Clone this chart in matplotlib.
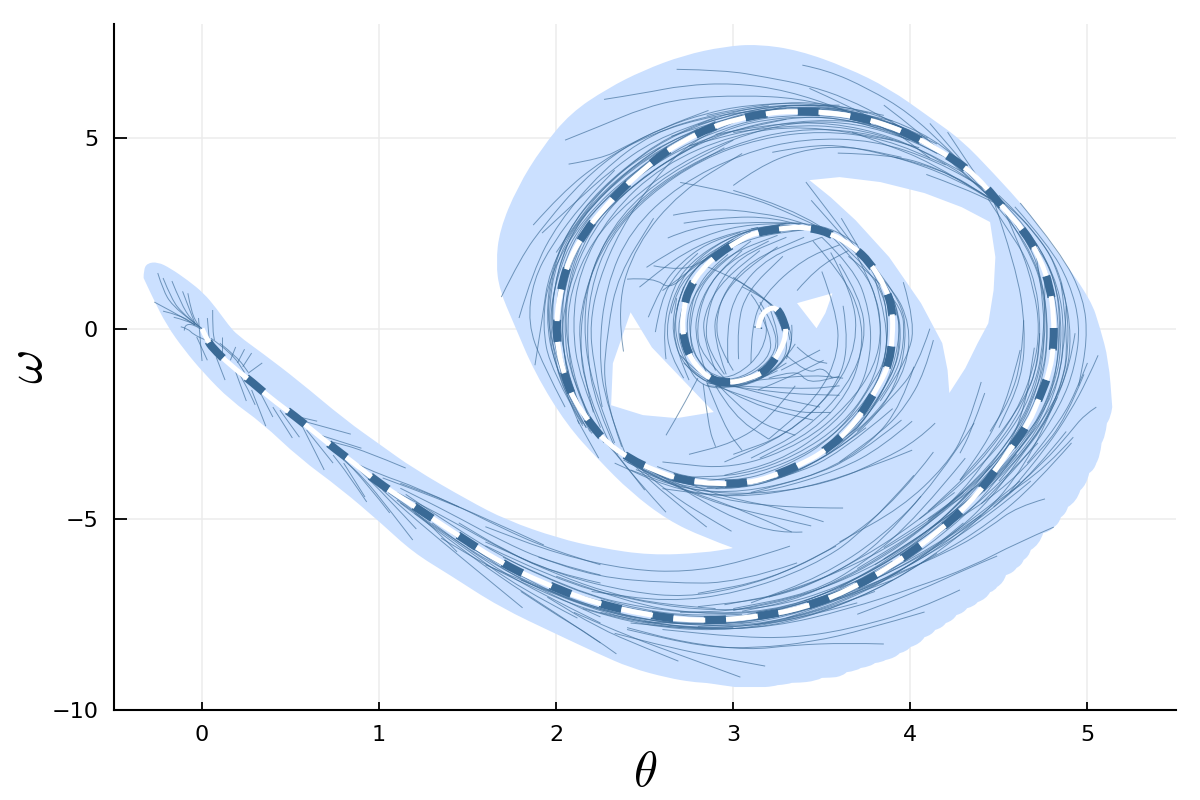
import matplotlib
matplotlib.use("Agg")
import matplotlib.pyplot as plt
from matplotlib.path import Path
from matplotlib.patches import PathPatch

plt.rcParams["mathtext.fontset"] = "cm"
plt.rcParams["lines.scale_dashes"] = False

# Reachable set outline (theta, omega)
edge_top = [
    (-0.33, 1.33), (-0.33, 1.54), (-0.31, 1.72), (-0.25, 1.75), (-0.18, 1.59), (-0.08, 1.27),
    (0.01, 0.93), (0.08, 0.54), (0.15, 0.09), (0.20, -0.17), (0.34, -0.64), (0.54, -1.35),
    (0.81, -2.40), (1.01, -3.06), (1.19, -3.66), (1.50, -4.50), (1.72, -5.03), (2.01, -5.50),
    (2.25, -5.76), (2.53, -5.95), (2.83, -5.89), (3.00, -5.76),
]
edge_back = [
    (3.00, -5.76), (2.83, -5.47), (2.63, -5.03),
    (2.42, -4.29), (2.24, -3.45), (2.06, -2.53), (1.88, -1.17), (1.76, 0.14), (1.68, 1.01),
    (1.66, 1.72), (1.68, 2.59), (1.78, 3.71), (1.92, 4.76), (2.08, 5.66), (2.29, 6.31),
    (2.49, 6.78), (2.72, 7.18), (2.95, 7.41), (3.14, 7.47), (3.37, 7.31), (3.64, 6.86),
    (3.88, 6.31), (4.11, 5.55), (4.29, 4.95), (4.47, 4.08), (4.66, 3.11), (4.85, 1.88),
    (5.02, 0.75), (5.07, 0.04), (5.12, -0.83), (5.14, -2.06),
]
edge_steps = [
    (5.14, -2.06), (5.11, -2.48), (5.08, -3.0), (5.05, -3.53), (5.01, -3.79), (4.96, -4.24),
    (4.89, -4.68), (4.85, -4.95), (4.81, -5.21), (4.75, -5.37), (4.68, -5.81), (4.64, -6.07),
    (4.60, -6.28), (4.54, -6.47), (4.49, -6.78), (4.45, -6.92), (4.38, -7.18), (4.32, -7.34),
    (4.26, -7.52), (4.20, -7.73), (4.14, -7.91), (4.08, -8.10), (4.00, -8.36), (3.94, -8.52),
    (3.86, -8.70), (3.80, -8.78), (3.72, -8.91), (3.64, -9.02), (3.58, -9.15), (3.50, -9.17),
    (3.41, -9.28), (3.33, -9.30), (3.25, -9.36), (3.18, -9.41), (3.09, -9.41), (3.01, -9.41),
]
edge_tail = [
    (3.01, -9.41), (2.93, -9.36), (2.85, -9.30), (2.77, -9.28), (2.63, -9.17), (2.42, -8.91),
    (2.23, -8.52), (2.01, -8.04), (1.68, -7.31), (1.40, -6.47), (1.19, -5.87), (1.01, -5.10),
    (0.78, -4.19), (0.55, -3.40), (0.34, -2.48), (0.16, -1.88), (0.01, -1.17), (-0.10, -0.56),
    (-0.20, 0.09), (-0.28, 0.83), (-0.33, 1.33),
]
hole_left = [
    (2.42, 0.43), (2.32, -0.91), (2.31, -2.01), (2.49, -2.27), (2.68, -2.35), (2.89, -2.19),
    (2.70, -1.27), (2.54, -0.49),
]
hole_small = [(3.47, 0.01), (3.52, 0.41), (3.56, 0.93), (3.36, 0.67)]
hole_right = [
    (3.55, 3.45), (3.69, 2.85), (3.88, 1.88), (4.06, 0.67), (4.18, -0.38), (4.21, -1.09),
    (4.22, -1.69), (4.31, -1.04), (4.38, -0.38), (4.44, 0.14), (4.47, 1.01), (4.48, 1.88),
    (4.45, 2.80), (4.29, 3.19), (4.08, 3.56), (3.83, 3.85), (3.60, 3.98), (3.43, 3.90),
]

# Nominal trajectory
nominal = [
    (3.14, 0.01), (3.15, 0.30), (3.20, 0.54), (3.25, 0.54), (3.29, 0.14), (3.30, -0.12),
    (3.27, -0.56), (3.19, -1.09), (3.10, -1.30), (2.98, -1.43), (2.87, -1.35), (2.76, -0.83),
    (2.71, -0.12), (2.72, 0.56), (2.75, 1.05), (2.82, 1.55), (2.92, 1.98), (3.02, 2.27),
    (3.11, 2.51), (3.31, 2.66), (3.42, 2.66), (3.55, 2.51), (3.68, 2.14), (3.77, 1.75),
    (3.86, 1.09), (3.90, 0.49), (3.90, -0.22), (3.88, -0.91), (3.83, -1.43), (3.69, -2.48),
    (3.54, -3.14), (3.40, -3.53), (3.21, -3.90), (3.07, -4.06), (2.91, -4.08), (2.71, -3.98),
    (2.55, -3.71), (2.42, -3.43), (2.28, -2.98), (2.20, -2.53), (2.10, -1.88), (2.05, -1.27),
    (2.01, -0.56), (2.00, 0.14), (2.02, 0.93), (2.07, 1.80), (2.17, 2.59), (2.26, 3.11),
    (2.38, 3.71), (2.49, 4.16), (2.61, 4.63), (2.75, 5.00), (2.86, 5.26), (3.02, 5.50),
    (3.19, 5.66), (3.34, 5.71), (3.53, 5.68), (3.72, 5.55), (3.90, 5.29), (4.04, 5.00),
    (4.18, 4.63), (4.32, 4.21), (4.43, 3.71), (4.52, 3.19), (4.64, 2.59), (4.73, 1.88),
    (4.79, 1.09), (4.81, 0.30), (4.81, -0.38), (4.79, -1.09), (4.73, -1.80), (4.67, -2.48),
    (4.56, -3.19), (4.38, -4.37), (4.16, -5.34), (3.92, -6.15), (3.68, -6.81), (3.40, -7.34),
    (3.09, -7.60), (2.79, -7.68), (2.51, -7.52), (2.20, -7.18), (1.91, -6.65), (1.68, -6.13),
    (1.40, -5.29), (1.12, -4.42), (1.00, -4.06), (0.85, -3.50), (0.76, -3.19), (0.62, -2.66),
    (0.53, -2.32), (0.38, -1.80), (0.29, -1.43), (0.16, -0.96), (0.06, -0.51), (0.03, -0.30),
    (0.0, 0.0),
]

# Sampled trajectories, grouped by where they sit
strands_top = [
    [(2.68, 6.81), (2.95, 6.79), (3.19, 6.60), (3.42, 6.39), (3.64, 6.05), (3.88, 5.47), (4.11, 4.87), (4.34, 4.08), (4.47, 3.43)],
    [(3.39, 6.92), (3.53, 6.79), (3.76, 6.31), (3.99, 5.68), (4.22, 4.68), (4.43, 3.71)],
    [(2.27, 6.02), (2.49, 6.18), (2.72, 6.39), (3.00, 6.45), (3.30, 6.26), (3.64, 5.73), (3.99, 4.95)],
    [(2.05, 4.95), (2.26, 5.34), (2.49, 5.79), (2.72, 6.05), (3.05, 6.13), (3.37, 6.05), (3.64, 5.73)],
    [(2.07, 4.32), (2.26, 4.47), (2.38, 4.76), (2.61, 5.29), (2.84, 5.65), (3.07, 5.87), (3.41, 5.94), (3.76, 5.66)],
    [(3.43, 6.31), (3.64, 5.87), (3.88, 5.29), (4.11, 4.48)],
    [(3.85, 5.87), (4.06, 5.13), (4.27, 4.24), (4.45, 3.45)],
    [(4.11, 5.39), (4.29, 4.42), (4.46, 3.45)],
    [(4.21, 5.16), (4.34, 4.24), (4.46, 3.45)],
    [(3.67, 5.16), (3.88, 4.81), (4.11, 4.37), (4.45, 3.42)],
    [(3.22, 4.63), (3.42, 4.81), (3.64, 4.81), (3.99, 4.42), (4.27, 3.90), (4.46, 3.37)],
    [(3.59, 4.61), (3.88, 4.58), (4.15, 4.24), (4.46, 3.40)],
    [(3.91, 4.50), (4.18, 4.21), (4.45, 3.42)],
    [(4.09, 4.05), (4.29, 3.71), (4.47, 3.32)],
    [(3.00, 3.76), (3.14, 4.24), (3.37, 4.68), (3.64, 4.81), (3.95, 4.5)],
    [(2.85, 5.6), (3.2, 5.95), (3.55, 5.92), (3.9, 5.5), (4.2, 4.8), (4.45, 3.6)],
    [(2.8, 5.35), (3.15, 5.85), (3.5, 5.88), (3.85, 5.5), (4.15, 4.85)],
    [(2.9, 5.1), (3.2, 5.38), (3.55, 5.42), (3.9, 5.05), (4.2, 4.35), (4.45, 3.55)],
    [(3.0, 5.15), (3.3, 5.35), (3.65, 5.3), (4.0, 4.85), (4.3, 4.1)],
    [(2.75, 4.8), (3.1, 5.25), (3.45, 5.5), (3.8, 5.4), (4.1, 4.8)],
    [(2.65, 5.05), (3.0, 5.6), (3.35, 5.82), (3.7, 5.7), (4.0, 5.2)],
]
strands_left = [
    [(1.69, 0.83), (1.80, 1.88), (1.94, 2.77), (2.15, 3.90), (2.38, 4.76), (2.61, 5.29), (2.86, 5.73)],
    [(1.79, 0.28), (1.87, 1.54), (2.01, 2.77), (2.26, 4.16), (2.54, 5.13), (2.86, 5.60), (3.2, 5.85)],
    [(1.87, 2.72), (2.03, 3.56), (2.26, 4.42), (2.54, 5.13), (2.90, 5.62), (3.3, 5.78)],
    [(1.92, 2.51), (2.10, 3.29), (2.31, 4.16), (2.55, 4.95), (2.9, 5.55)],
    [(2.26, -2.06), (2.21, -0.91), (2.19, 0.14), (2.24, 1.27), (2.36, 2.59), (2.56, 3.98), (2.77, 4.95), (3.07, 5.55)],
    [(2.05, -2.06), (1.92, -0.91), (1.84, 0.14), (1.87, 1.27), (1.98, 2.24), (2.15, 3.29), (2.33, 4.16)],
    [(1.88, -0.96), (1.92, 0.22), (1.96, 1.54), (2.12, 2.85), (2.33, 3.90), (2.59, 4.76)],
    [(2.25, -2.6), (2.13, -1.3), (2.09, 0.1), (2.13, 1.5), (2.3, 3.0), (2.6, 4.3), (3.0, 5.1), (3.4, 5.35), (3.9, 4.95)],
    [(2.15, -2.55), (1.97, -1.1), (1.92, 0.1), (1.96, 1.4), (2.15, 2.9), (2.45, 4.2), (2.85, 5.3), (3.3, 5.85)],
    [(2.22, -2.7), (2.08, -1.3), (2.04, 0.1), (2.08, 1.6), (2.22, 3.0), (2.5, 4.2), (2.85, 5.05), (3.3, 5.5)],
    [(2.19, -2.7), (2.04, -1.3), (1.97, 0.1), (2.0, 1.5), (2.13, 2.9), (2.42, 4.2), (2.8, 5.25)],
    [(2.3, -3.0), (2.16, -1.6), (2.13, -0.1), (2.19, 1.5), (2.36, 3.0), (2.64, 4.1), (3.0, 4.95)],
    [(2.17, -2.6), (2.0, -1.2), (1.95, 0.2), (2.0, 1.9), (2.2, 3.3), (2.5, 4.5), (2.9, 5.45)],
    [(2.1, -1.9), (2.02, -0.5), (2.06, 1.0), (2.2, 2.6), (2.45, 3.9), (2.8, 4.85)],
    [(2.21, -2.2), (2.12, -0.6), (2.15, 0.9), (2.3, 2.5), (2.58, 3.8), (2.95, 4.75)],
    [(2.38, -0.6), (2.34, 0.6), (2.45, 2.2), (2.7, 3.6), (3.05, 4.6)],
    [(2.0, 2.0), (2.2, 3.4), (2.42, 4.35), (2.72, 5.1), (3.05, 5.6)],
    [(2.12, -2.1), (2.0, -0.9), (1.96, 0.2), (2.0, 1.3), (2.1, 2.5), (2.3, 3.5), (2.55, 4.5), (2.85, 5.3), (3.2, 5.8), (3.55, 5.83), (3.9, 5.45)],
    [(2.2, -2.75), (2.06, -1.3), (2.03, 0.1), (2.05, 1.4), (2.16, 2.5), (2.38, 3.55), (2.65, 4.5), (2.95, 5.15), (3.3, 5.55), (3.6, 5.55), (3.95, 5.1)],
    [(2.27, -3.0), (2.1, -1.6), (2.06, -0.2), (2.08, 1.0), (2.2, 2.3), (2.42, 3.4), (2.7, 4.35), (3.0, 5.0), (3.35, 5.45), (3.7, 5.4), (4.0, 4.95)],
    [(2.15, -2.3), (2.03, -0.9), (1.99, 0.2), (2.03, 1.6), (2.15, 2.75), (2.35, 3.75), (2.6, 4.7), (2.9, 5.4), (3.25, 5.75), (3.6, 5.78), (3.95, 5.3)],
    [(2.13, -2.5), (1.99, -1.0), (1.94, 0.3), (1.98, 1.7), (2.1, 2.85), (2.3, 3.85), (2.55, 4.8), (2.85, 5.45), (3.2, 5.85), (3.6, 5.87)],
    [(2.35, -3.3), (2.22, -2.0), (2.17, -0.5), (2.19, 1.0), (2.3, 2.4), (2.52, 3.5), (2.82, 4.45), (3.15, 5.0), (3.5, 5.2), (3.85, 5.0), (4.2, 4.3)],
    [(2.4, -3.4), (2.28, -2.0), (2.24, -0.6), (2.28, 1.1), (2.42, 2.6), (2.7, 3.8), (3.05, 4.6), (3.4, 5.0), (3.8, 4.95), (4.15, 4.4), (4.45, 3.6)],
    [(2.33, -3.0), (2.2, -1.5), (2.15, 0.1), (2.2, 1.7), (2.38, 3.0), (2.65, 4.05), (3.0, 4.85), (3.35, 5.25), (3.7, 5.2), (4.05, 4.75)],
    [(2.37, -3.1), (2.26, -1.7), (2.29, 0.0), (2.35, 1.4), (2.55, 2.9)],
    [(2.24, -2.9), (2.14, -1.9), (2.07, -0.6), (2.05, 0.3), (2.08, 1.3), (2.14, 2.1), (2.24, 2.9), (2.37, 3.5), (2.52, 4.05), (2.66, 4.5), (2.8, 4.87), (3.0, 5.3), (3.2, 5.5), (3.4, 5.57), (3.6, 5.52), (3.8, 5.3), (4.0, 4.95), (4.2, 4.5)],
    [(2.17, -2.6), (2.06, -1.8), (2.0, -0.6), (1.97, 0.2), (1.99, 1.1), (2.04, 2.0), (2.12, 2.75), (2.22, 3.3), (2.35, 3.9), (2.46, 4.35), (2.6, 4.8), (2.75, 5.15), (2.95, 5.5), (3.15, 5.75), (3.35, 5.82), (3.6, 5.78), (3.85, 5.5), (4.1, 5.0)],
    [(2.21, -2.75), (2.11, -1.9), (2.04, -0.6), (2.02, 0.2), (2.05, 1.1), (2.11, 2.0), (2.21, 2.85), (2.34, 3.55), (2.48, 4.05), (2.63, 4.55), (2.77, 4.92), (2.92, 5.2), (3.1, 5.47), (3.3, 5.6), (3.55, 5.6), (3.75, 5.42), (3.95, 5.1), (4.15, 4.6)],
    [(2.15, -2.5), (2.03, -1.6), (1.98, -0.4), (1.95, 0.3), (1.97, 1.2), (2.02, 2.1), (2.11, 2.85), (2.2, 3.4), (2.32, 3.95), (2.44, 4.4), (2.57, 4.85), (2.72, 5.2), (2.9, 5.55), (3.1, 5.8), (3.35, 5.88), (3.6, 5.85), (3.85, 5.6)],
]
strands_right = [
    [(4.59, 3.2), (4.78, 2.2), (4.9, 1.2), (4.96, 0.1), (4.93, -1.0), (4.85, -2.0), (4.67, -3.3), (4.4, -4.6)],
    [(4.5, 3.5), (4.75, 2.4), (4.87, 1.0), (4.91, -0.2), (4.88, -1.3), (4.75, -2.6), (4.5, -4.0)],
    [(4.62, 3.3), (4.85, 2.0), (4.98, 0.8), (5.0, -0.3), (4.95, -1.5)],
    [(4.50, 3.4), (4.62, 2.2), (4.7, 1.0), (4.73, 0), (4.7, -1.0), (4.6, -2.2), (4.4, -3.5), (4.1, -4.8)],
    [(4.46, 3.5), (4.6, 1.6), (4.65, 0.0), (4.63, -1.3), (4.5, -2.6)],
    [(5.06, -0.7), (5.0, -1.34), (4.90, -2.2), (4.77, -3.11), (4.56, -4.3)],
    [(5.0, -0.9), (4.94, -1.6), (4.85, -2.4), (4.66, -3.53)],
    [(5.05, -2.06), (4.98, -2.27), (4.9, -2.74), (4.75, -3.53), (4.47, -4.68)],
    [(4.92, -2.85), (4.77, -3.63), (4.5, -4.5)],
    [(4.42, -1.69), (4.34, -2.74), (4.28, -3.27)],
    [(4.62, -0.56), (4.56, -1.69), (4.45, -2.85), (4.28, -3.98)],
    [(4.64, 0.22), (4.63, -0.83), (4.56, -1.88), (4.45, -2.7)],
    [(4.93, -0.12), (4.9, -1.0), (4.81, -1.96), (4.66, -2.93), (4.47, -3.9), (4.28, -4.76)],
    [(4.73, -0.12), (4.72, -1.0), (4.64, -1.88), (4.47, -3.0), (4.28, -3.98)],
    [(4.88, 0.6), (4.87, -0.8), (4.78, -2.0), (4.62, -3.0), (4.4, -4.1), (4.1, -5.0)],
    [(4.76, 1.4), (4.76, -0.4), (4.68, -1.8), (4.53, -2.95), (4.32, -3.95), (4.05, -5.0)],
    [(4.85, 1.2), (4.9, -0.4), (4.84, -1.7), (4.7, -2.9), (4.5, -3.95), (4.25, -4.9)],
    [(4.7, 2.2), (4.77, 0.4), (4.73, -1.3), (4.6, -2.7), (4.38, -3.95), (4.1, -5.05)],
    [(4.98, -1.2), (4.88, -2.35), (4.72, -3.3), (4.5, -4.3), (4.2, -5.2)],
    [(4.4, -1.4), (4.32, -2.66), (4.2, -3.6), (3.95, -4.7), (3.6, -5.6)],
    [(4.13, -0.3), (4.08, -1.17), (3.97, -2.06), (3.85, -2.66), (3.6, -3.5)],
    [(4.11, 0.0), (4.04, -1.0), (3.90, -1.8), (3.7, -2.7)],
    [(3.9, 5.4), (4.25, 4.55), (4.5, 3.45), (4.7, 2.4), (4.84, 1.1), (4.87, -0.1), (4.84, -1.4), (4.72, -2.7), (4.52, -3.8), (4.25, -4.9), (3.95, -5.9), (3.6, -6.8)],
    [(4.25, 4.5), (4.47, 3.5), (4.65, 2.5), (4.79, 1.4), (4.84, 0.2), (4.83, -1.1), (4.75, -2.3), (4.6, -3.3), (4.4, -4.25), (4.12, -5.25), (3.8, -6.2)],
    [(4.45, 3.6), (4.66, 2.4), (4.75, 1.2), (4.78, -0.1), (4.75, -1.3), (4.66, -2.4), (4.5, -3.4), (4.3, -4.4), (4.02, -5.4), (3.7, -6.3)],
    [(4.47, 3.5), (4.7, 2.3), (4.82, 1.3), (4.85, 0.0), (4.82, -1.3), (4.7, -2.6), (4.48, -3.85), (4.2, -5.0), (3.85, -6.05)],
    [(4.5, 3.3), (4.67, 2.1), (4.76, 0.9), (4.76, -0.4), (4.72, -1.6), (4.6, -2.8), (4.42, -3.85), (4.15, -4.85), (3.85, -5.75)],
    [(4.2, 4.5), (4.4, 3.65), (4.55, 3.05), (4.68, 2.45), (4.77, 1.8), (4.83, 1.0), (4.85, 0.2), (4.85, -0.5), (4.83, -1.2), (4.77, -1.9), (4.7, -2.6), (4.6, -3.25), (4.42, -4.4), (4.2, -5.35), (3.96, -6.15), (3.7, -6.85), (3.42, -7.4), (3.1, -7.68)],
    [(4.3, 4.2), (4.42, 3.6), (4.49, 3.2), (4.6, 2.6), (4.69, 1.9), (4.75, 1.1), (4.77, 0.3), (4.77, -0.4), (4.75, -1.1), (4.69, -1.8), (4.63, -2.45), (4.52, -3.15), (4.34, -4.3), (4.12, -5.25), (3.88, -6.05), (3.64, -6.7), (3.38, -7.22), (3.08, -7.5)],
    [(4.4, 3.8), (4.59, 3.1), (4.72, 2.4), (4.81, 1.8), (4.87, 1.0), (4.89, 0.2), (4.89, -0.5), (4.87, -1.2), (4.81, -1.95), (4.74, -2.65), (4.63, -3.3), (4.46, -4.45), (4.23, -5.45), (4.0, -6.2), (3.73, -6.95), (3.44, -7.47), (3.12, -7.78)],
    [(4.44, 3.4), (4.55, 2.6), (4.65, 1.9), (4.71, 1.1), (4.73, 0.3), (4.73, -0.4), (4.71, -1.1), (4.65, -1.8), (4.59, -2.4), (4.48, -3.1), (4.3, -4.25), (4.08, -5.2), (3.85, -5.95), (3.6, -6.6), (3.33, -7.15), (3.05, -7.42)],
]
strands_bottom = [
    [(4.81, -5.21), (4.60, -5.63), (4.34, -6.26), (4.04, -6.78), (3.64, -7.38), (3.23, -7.83), (2.83, -7.91), (2.42, -7.73)],
    [(4.76, -4.47), (4.60, -4.68), (4.45, -5.21), (4.24, -5.81), (3.84, -6.60), (3.44, -7.31)],
    [(4.49, -5.97), (4.34, -6.26), (4.04, -6.9), (3.7, -7.5)],
    [(4.28, -6.86), (4.04, -7.39), (3.64, -7.91), (3.33, -8.12), (3.03, -8.10), (2.6, -7.9)],
    [(4.08, -7.44), (3.74, -7.91), (3.44, -8.23), (3.13, -8.39), (2.83, -8.36), (2.4, -7.9)],
    [(3.85, -8.28), (3.64, -8.25), (3.33, -8.31), (3.09, -8.44), (2.73, -8.25), (2.4, -7.85)],
    [(3.18, -8.86), (2.93, -8.65), (2.63, -8.36), (2.33, -8.0)],
    [(3.04, -9.15), (2.73, -8.62), (2.42, -8.1), (2.1, -7.45)],
    [(2.69, -8.73), (2.49, -8.36), (2.23, -7.84), (1.95, -7.05)],
    [(2.34, -8.54), (2.19, -8.04), (2.02, -7.57), (1.8, -6.9)],
    [(3.32, -5.71), (3.03, -6.16), (2.73, -6.39), (2.42, -6.34), (2.02, -5.94), (1.6, -5.2)],
    [(3.58, -5.71), (3.33, -6.34), (3.03, -6.81), (2.73, -7.05), (2.42, -6.92), (2.02, -6.47), (1.6, -5.6)],
    [(3.36, -6.15), (3.03, -6.68), (2.63, -6.68), (2.23, -6.52), (1.9, -6.0)],
    [(4.02, -3.85), (3.74, -5.34), (3.44, -6.26), (3.03, -6.94), (2.63, -7.18), (2.2, -6.9)],
    [(4.06, -4.40), (3.84, -5.63), (3.54, -6.52), (3.23, -7.07), (2.8, -7.3)],
    [(4.31, -3.40), (4.04, -4.95), (3.74, -6.15), (3.44, -6.95), (3.0, -7.35)],
    [(4.36, -2.48), (4.14, -4.06), (3.84, -5.47), (3.5, -6.5), (3.1, -7.2)],
    [(4.13, -3.24), (3.94, -4.42), (3.6, -5.7), (3.2, -6.6), (2.8, -6.95)],
    [(4.91, -3.0), (4.71, -4.06), (4.45, -5.10), (4.14, -6.0), (3.74, -6.86), (3.33, -7.47)],
    [(4.68, -4.0), (4.42, -5.0), (4.1, -5.95), (3.7, -6.95), (3.3, -7.6)],
    [(4.62, -4.0), (4.36, -5.0), (4.05, -5.95), (3.65, -6.85), (3.2, -7.45)],
    [(4.3, -4.3), (4.08, -5.25), (3.78, -6.2), (3.45, -6.95), (3.05, -7.4), (2.7, -7.45)],
    [(4.25, -4.3), (4.0, -5.2), (3.7, -6.1), (3.35, -6.9), (2.95, -7.25)],
    [(4.5, -4.5), (4.23, -5.55), (3.95, -6.35), (3.6, -7.1), (3.2, -7.7), (2.8, -7.82)],
    [(4.4, -4.9), (4.1, -5.85), (3.8, -6.6), (3.45, -7.3), (3.0, -7.8), (2.5, -7.7)],
    [(4.88, -2.7), (4.7, -3.75), (4.45, -4.8), (4.15, -5.75), (3.8, -6.6), (3.4, -7.3), (3.0, -7.72), (2.6, -7.7)],
    [(4.72, -3.0), (4.5, -4.1), (4.22, -5.2), (3.9, -6.25), (3.5, -7.1), (3.1, -7.55)],
    [(4.55, -3.2), (4.33, -4.4), (4.05, -5.5), (3.75, -6.35), (3.4, -7.0), (3.0, -7.4)],
    [(4.6, -3.3), (4.36, -4.55), (4.08, -5.6), (3.78, -6.5), (3.4, -7.15)],
    [(4.45, -3.6), (4.25, -4.55), (3.95, -5.55), (3.6, -6.4), (3.2, -7.05)],
    [(3.9, -6.6), (3.5, -7.3), (3.1, -7.7), (2.7, -7.78), (2.3, -7.45), (1.95, -6.85)],
    [(3.8, -6.9), (3.45, -7.5), (3.05, -7.85), (2.65, -7.85), (2.25, -7.45)],
    [(3.7, -7.2), (3.3, -7.7), (2.9, -7.95), (2.5, -7.8), (2.15, -7.35)],
    [(3.6, -7.05), (3.2, -7.5), (2.8, -7.6), (2.4, -7.35), (2.05, -6.9)],
    [(3.1, -7.7), (2.79, -7.8), (2.5, -7.65), (2.2, -7.3), (1.9, -6.78), (1.65, -6.2), (1.38, -5.4), (1.1, -4.5)],
    [(3.05, -7.5), (2.79, -7.55), (2.5, -7.4), (2.2, -7.03), (1.92, -6.5), (1.7, -6.0), (1.42, -5.2), (1.15, -4.35)],
    [(3.0, -7.85), (2.75, -7.9), (2.45, -7.7), (2.15, -7.35), (1.87, -6.8), (1.62, -6.25), (1.35, -5.5)],
    [(2.9, -7.35), (2.6, -7.25), (2.3, -6.95), (2.0, -6.45), (1.72, -5.85), (1.45, -5.1)],
    [(1.45, -4.68), (1.21, -4.16), (1.01, -3.84), (0.85, -3.5)],
    [(1.93, -5.68), (1.59, -4.95), (1.31, -4.42), (1.02, -3.92)],
    [(2.25, -6.2), (1.97, -5.81), (1.68, -5.21), (1.40, -4.55), (1.12, -4.06)],
    [(2.25, -6.47), (1.97, -6.15), (1.68, -5.55), (1.40, -4.84), (1.12, -4.19)],
    [(2.25, -6.68), (1.97, -6.39), (1.68, -5.76), (1.40, -5.02), (1.1, -4.3)],
    [(1.81, -7.33), (1.50, -6.15), (1.21, -5.03), (1.02, -4.24)],
    [(2.25, -8.25), (1.97, -7.38), (1.68, -6.52), (1.40, -5.55), (1.12, -4.58)],
    [(1.19, -5.55), (1.06, -4.76), (0.91, -3.9), (0.80, -3.45)],
    [(1.21, -5.26), (1.06, -4.5), (0.85, -3.53)],
    [(1.06, -4.84), (0.93, -4.06), (0.78, -3.32)],
    [(0.93, -4.55), (0.82, -3.79), (0.74, -3.32)],
    [(0.92, -4.42), (0.80, -3.53)],
    [(1.44, -5.86), (1.25, -4.95), (1.05, -4.3)],
    [(2.12, -7.6), (1.78, -6.78), (1.50, -5.81), (1.2, -4.85)],
    [(2.25, -7.73), (1.87, -6.86), (1.59, -6.08), (1.3, -5.1)],
    [(2.25, -7.57), (1.87, -6.78), (1.59, -5.98), (1.3, -5.0)],
    [(1.6, -6.2), (2.0, -7.0), (2.4, -7.6), (2.8, -7.9), (3.2, -7.85), (3.6, -7.3), (4.0, -6.4), (4.4, -5.0), (4.65, -3.6), (4.83, -1.8)],
    [(1.6, -5.7), (2.0, -6.6), (2.4, -7.1), (2.8, -7.4), (3.2, -7.35), (3.6, -6.8), (4.0, -5.8), (4.3, -4.6), (4.55, -3.2), (4.65, -2.0), (4.7, -0.5)],
    [(1.5, -5.7), (1.9, -6.8), (2.3, -7.5), (2.8, -7.83), (3.2, -7.75), (3.6, -7.2), (4.0, -6.25), (4.3, -5.1)],
    [(1.7, -6.0), (2.1, -6.9), (2.5, -7.35), (2.9, -7.5), (3.3, -7.35), (3.7, -6.6), (4.05, -5.6), (4.35, -4.2)],
    [(1.8, -6.6), (2.2, -7.4), (2.6, -7.8), (3.0, -7.86), (3.4, -7.6), (3.8, -6.9), (4.15, -5.9)],
    [(2.0, -6.5), (2.4, -7.2), (2.8, -7.5), (3.2, -7.45), (3.55, -7.0), (3.9, -6.1)],
]
strands_mid = [
    [(4.01, -2.43), (3.84, -3.11), (3.60, -3.71), (3.23, -4.24), (2.93, -4.42), (2.63, -4.16), (2.33, -3.53)],
    [(4.14, -2.48), (4.04, -2.93), (3.84, -3.45), (3.54, -4.06), (3.13, -4.37), (2.73, -4.24), (2.42, -3.71)],
    [(4.01, -3.19), (3.78, -3.63), (3.4, -4.2), (3.0, -4.45), (2.6, -4.2)],
    [(3.51, -5.07), (3.27, -4.71), (3.03, -4.50), (2.83, -4.24), (2.53, -3.63)],
    [(3.44, -5.18), (3.23, -4.95), (2.93, -4.63), (2.63, -4.06), (2.4, -3.5)],
    [(3.39, -5.34), (3.25, -5.37), (3.03, -5.03), (2.83, -4.55), (2.61, -3.90), (2.42, -3.45)],
    [(3.33, -5.34), (3.03, -4.71), (2.7, -4.2), (2.45, -3.6)],
    [(3.62, -4.71), (3.33, -4.71), (2.93, -4.50), (2.63, -3.98), (2.4, -3.4)],
    [(2.99, -5.32), (2.83, -4.90), (2.63, -4.29), (2.42, -3.45)],
    [(2.85, -5.21), (2.63, -4.42), (2.42, -3.5)],
    [(2.62, -4.82), (2.47, -4.06), (2.31, -3.11)],
    [(2.50, -4.24), (2.37, -3.45), (2.23, -2.74)],
    [(2.24, -3.40), (2.16, -2.74), (2.12, -2.40)],
    [(2.66, 2.98), (2.85, 3.16), (3.14, 3.06), (3.42, 2.77), (3.68, 2.14)],
    [(2.72, 2.77), (2.94, 2.93), (3.23, 2.93), (3.53, 2.51)],
    [(2.63, 2.38), (2.77, 2.66), (3.04, 2.80), (3.38, 2.77)],
    [(2.51, 1.61), (2.64, 2.01), (2.81, 2.40), (3.04, 2.72), (3.32, 2.77)],
    [(2.47, 1.09), (2.59, 1.54), (2.72, 1.98), (2.91, 2.40), (3.14, 2.66)],
    [(2.52, 0.30), (2.59, 1.09), (2.70, 1.72), (2.85, 2.24), (3.04, 2.53)],
    [(2.56, -0.09), (2.59, 0.75), (2.68, 1.46), (2.80, 1.98)],
    [(3.36, 1.0), (3.47, 1.6), (3.65, 2.05)],
    [(3.41, 3.85), (3.55, 3.0), (3.69, 2.13)],
    [(3.61, 2.90), (3.75, 1.80)],
    [(3.44, 3.37), (3.64, 2.32)],
    [(3.00, 3.63), (3.32, 3.19), (3.64, 2.24)],
    [(2.70, 3.84), (3.05, 3.55), (3.37, 2.93), (3.60, 2.40)],
    [(3.96, 1.22), (4.03, 0.14), (3.98, -0.8), (3.83, -1.9)],
    [(3.7, 1.9), (3.8, 1.0), (3.84, 0), (3.8, -1.0), (3.65, -2.0), (3.4, -3.0), (3.0, -3.7), (2.6, -3.5)],
    [(3.6, 1.7), (3.72, 0.8), (3.75, -0.3), (3.65, -1.5), (3.4, -2.7), (3.1, -3.4)],
    [(3.65, 1.9), (3.95, 0.8), (3.97, -0.4), (3.9, -1.4), (3.7, -2.6)],
    [(3.78, 1.6), (3.93, 0.6), (3.94, -0.4), (3.85, -1.7), (3.65, -2.9), (3.3, -3.8)],
    [(3.55, 2.0), (3.68, 0.9), (3.7, -0.4), (3.58, -1.6), (3.3, -2.8), (2.95, -3.5)],
    [(3.8, 1.3), (3.87, 0.2), (3.86, -0.9), (3.75, -2.0), (3.52, -3.1)],
    [(3.62, 0.6), (3.66, -0.5), (3.56, -1.7), (3.3, -2.8), (3.0, -3.3)],
    [(3.5, 1.5), (3.58, 0.5), (3.6, -0.6), (3.48, -1.8), (3.2, -2.9)],
    [(3.35, -1.5), (3.2, -2.4), (3.0, -3.0), (2.75, -3.3)],
    [(4.02, -1.0), (3.95, -2.0), (3.78, -3.0), (3.5, -3.8), (3.1, -4.3)],
    [(3.72, 2.0), (3.83, 1.2), (3.87, 0.4), (3.87, -0.5), (3.82, -1.4), (3.66, -2.4), (3.45, -3.2), (3.15, -3.8), (2.85, -4.0)],
    [(3.6, 2.35), (3.8, 1.6), (3.93, 0.6), (3.95, -0.4), (3.9, -1.2), (3.72, -2.5), (3.48, -3.35), (3.2, -3.95), (2.9, -4.2)],
    [(3.55, 2.45), (3.75, 1.5), (3.82, 0.6), (3.84, -0.5), (3.78, -1.5), (3.62, -2.5), (3.35, -3.35), (3.05, -3.85), (2.75, -3.9)],
    [(3.5, 2.4), (3.68, 1.6), (3.77, 0.5), (3.78, -0.7), (3.7, -1.8), (3.52, -2.7), (3.25, -3.5), (2.95, -3.85)],
    [(3.45, 2.3), (3.62, 1.4), (3.72, 0.4), (3.73, -0.6), (3.65, -1.7), (3.45, -2.7), (3.15, -3.4)],
    [(3.68, 2.1), (3.9, 1.1), (4.0, 0.1), (3.98, -1.0), (3.85, -2.0), (3.65, -2.9), (3.35, -3.7), (3.0, -4.15)],
    [(3.75, 1.9), (3.95, 0.8), (3.98, -0.3), (3.92, -1.5), (3.77, -2.5), (3.52, -3.4), (3.2, -4.05), (2.85, -4.18)],
    [(3.7, -2.6), (3.45, -3.45), (3.2, -4.0), (2.9, -4.2), (2.6, -3.95), (2.35, -3.25)],
    [(3.9, -2.1), (3.6, -3.3), (3.3, -3.9), (3.0, -4.15), (2.7, -4.05), (2.42, -3.5)],
    [(3.75, -2.6), (3.55, -3.3), (3.25, -4.0), (2.95, -4.25), (2.65, -4.1), (2.38, -3.45)],
    [(3.95, -2.4), (3.7, -3.35), (3.4, -3.95), (3.05, -4.3), (2.75, -4.25), (2.45, -3.7)],
    [(2.65, 0.4), (2.68, 1.05), (2.8, 1.65), (2.95, 2.2), (3.15, 2.6), (3.4, 2.75), (3.65, 2.25)],
    [(2.62, -0.8), (2.6, 0.0), (2.66, 1.1), (2.76, 1.75), (2.95, 2.35), (3.2, 2.75), (3.5, 2.65)],
    [(2.72, -1.3), (2.64, -0.7), (2.62, 0.2), (2.7, 1.3), (2.85, 2.05), (3.05, 2.55), (3.3, 2.75), (3.6, 2.4)],
    [(2.75, -1.35), (2.68, -0.6), (2.66, 0.2), (2.73, 1.3), (2.88, 2.0), (3.1, 2.5), (3.4, 2.6)],
    [(3.55, 2.55), (3.7, 2.05), (3.79, 1.65), (3.88, 1.05), (3.93, 0.45), (3.94, -0.25), (3.92, -0.95), (3.86, -1.5), (3.73, -2.5), (3.57, -3.2), (3.42, -3.6), (3.22, -4.0), (3.07, -4.15), (2.9, -4.18), (2.7, -4.07), (2.53, -3.8), (2.38, -3.4)],
    [(3.6, 2.3), (3.66, 2.0), (3.74, 1.65), (3.83, 1.05), (3.87, 0.45), (3.87, -0.25), (3.85, -0.9), (3.79, -1.4), (3.65, -2.4), (3.5, -3.05), (3.37, -3.42), (3.2, -3.78), (3.06, -3.95), (2.92, -3.98), (2.72, -3.88), (2.57, -3.62)],
    [(3.1, 2.62), (3.3, 2.77), (3.43, 2.76), (3.58, 2.58), (3.7, 2.2)],
    [(2.82, 1.7), (2.94, 2.13), (3.07, 2.46), (3.2, 2.65), (3.35, 2.72), (3.5, 2.6)],
    [(2.68, 0.5), (2.71, 1.05), (2.78, 1.55), (2.88, 2.0), (3.0, 2.37), (3.1, 2.6), (3.3, 2.77)],
]
strands_inner = [
    [(3.22, -1.1), (3.0, -1.6), (2.8, -1.5), (2.72, -0.7), (2.68, 0.0), (2.74, 1.0), (2.9, 1.9), (3.1, 2.4), (3.4, 2.6)],
    [(3.2, -1.2), (3.0, -1.5), (2.82, -1.2), (2.74, -0.4), (2.74, 0.5), (2.82, 1.2), (2.97, 1.95), (3.25, 2.45)],
    [(2.95, -1.3), (2.82, -0.7), (2.79, 0.0), (2.84, 1.0), (2.97, 1.75), (3.2, 2.3)],
    [(2.95, -1.2), (2.86, -0.6), (2.84, 0.1), (2.9, 1.1), (3.04, 1.9), (3.3, 2.4)],
    [(3.0, -1.1), (2.92, -0.5), (2.90, 0.2), (2.95, 1.0), (3.1, 1.8), (3.4, 2.4)],
    [(2.97, -0.9), (2.96, 0.0), (3.02, 1.0), (3.2, 1.9), (3.5, 2.4)],
    [(3.03, -0.8), (3.02, 0.1), (3.08, 1.0), (3.28, 1.9)],
    [(3.1, -0.9), (3.1, 0.0), (3.17, 0.9), (3.4, 1.85), (3.6, 2.2)],
    [(3.3, -0.9), (3.1, -1.5), (2.9, -1.55), (2.72, -1.0), (2.65, -0.1), (2.68, 0.8)],
    [(3.35, -0.4), (3.25, -1.1), (3.05, -1.45), (2.85, -1.35), (2.7, -0.7)],
    [(3.33, 0.1), (3.34, -0.5), (3.23, -1.15), (3.05, -1.55), (2.85, -1.5)],
    [(3.0, 1.35), (3.11, 1.01), (3.23, 0.56), (3.30, 0.14), (3.32, -0.3)],
    [(2.83, 1.67), (3.04, 1.27), (3.21, 0.67), (3.3, 0.22)],
    [(3.05, 1.1), (3.18, 0.8), (3.28, 0.35), (3.34, -0.2), (3.3, -0.8)],
    [(3.36, -0.48), (3.44, -0.83), (3.53, -0.91)],
    [(3.27, -1.09), (3.38, -0.83), (3.49, -0.56)],
    [(3.14, -1.61), (3.32, -1.27), (3.51, -0.83)],
    [(3.3, -0.7), (3.42, -1.2), (3.5, -1.0), (3.56, -1.3)],
    [(3.2, -1.3), (3.36, -1.05), (3.42, -1.45), (3.6, -1.25)],
    [(2.88, -1.35), (3.23, -1.80), (3.49, -2.06)],
    [(2.88, -1.4), (3.1, -2.0), (3.45, -2.4)],
    [(2.9, -1.5), (3.0, -2.3), (3.2, -2.9)],
    [(2.85, -1.4), (2.95, -2.6), (3.05, -3.2)],
    [(2.83, -1.45), (2.86, -2.6), (2.9, -3.1)],
    [(2.8, -1.3), (2.72, -2.0), (2.62, -2.8)],
    [(2.9, -1.5), (3.3, -2.2), (3.55, -2.2)],
    [(2.9, -1.45), (3.25, -1.7), (3.6, -1.75)],
    [(3.0, -1.5), (3.4, -1.6), (3.6, -1.5)],
    [(3.05, -1.4), (3.4, -1.2), (3.62, -1.3)],
    [(2.92, -1.5), (3.1, -2.4), (3.35, -2.8)],
    [(2.4, 1.3), (2.55, 1.35), (2.65, 1.0), (2.8, 1.8), (3.0, 2.35)],
    [(2.6, 1.0), (2.75, 1.5), (2.9, 2.05), (3.1, 2.55)],
    [(2.55, 1.65), (2.72, 1.5), (2.85, 1.85), (3.05, 2.3)],
    [(3.15, 0.4), (3.22, -0.2), (3.2, -0.8), (3.05, -1.3), (2.9, -1.35)],
    [(3.2, 0.6), (3.27, -0.2), (3.22, -0.95), (3.05, -1.4), (2.85, -1.45)],
    [(3.22, 0.55), (3.32, -0.3), (3.27, -1.0), (3.1, -1.45), (2.9, -1.5)],
    [(3.15, 0.7), (3.23, 0.1), (3.25, -0.6), (3.12, -1.2), (2.95, -1.4)],
    [(3.1, 0.9), (3.2, 0.3), (3.17, -0.6), (3.02, -1.25), (2.88, -1.3)],
    [(2.9, -1.3), (2.78, -0.8), (2.75, -0.1), (2.79, 0.9), (2.9, 1.6), (3.1, 2.3)],
    [(2.85, -1.2), (2.78, -0.3), (2.8, 0.6), (2.9, 1.4), (3.05, 2.05)],
    [(2.9, -1.1), (2.82, -0.2), (2.85, 0.6), (2.95, 1.3), (3.15, 2.05)],
    [(2.96, -1.2), (2.88, -0.2), (2.92, 0.7), (3.03, 1.4), (3.25, 2.15)],
    [(2.93, -1.52), (2.82, -1.3), (2.72, -0.85), (2.67, -0.12), (2.68, 0.56), (2.72, 1.1)],
    [(3.0, -1.35), (2.88, -1.25), (2.79, -0.8), (2.75, -0.1), (2.76, 0.56), (2.8, 1.1), (2.87, 1.55), (2.97, 1.95)],
    [(3.25, -1.1), (3.12, -1.4), (2.98, -1.52), (2.85, -1.45), (2.72, -0.9)],
]
strands_tail = [
    [(-0.25, 1.46), (-0.22, 1.01), (-0.17, 0.62), (-0.05, 0.17), (0.0, 0.0)],
    [(-0.22, 1.33), (-0.17, 0.75), (-0.11, 0.41), (-0.03, 0.1)],
    [(-0.17, 1.25), (-0.12, 0.67), (-0.06, 0.22), (0.0, 0.0)],
    [(-0.11, 0.98), (-0.07, 0.49), (-0.04, 0.14)],
    [(-0.08, 0.93), (-0.06, 0.41), (-0.02, 0.08)],
    [(-0.27, 0.70), (-0.16, 0.43), (-0.04, 0.1)],
    [(-0.22, 0.46), (-0.12, 0.35), (-0.04, 0.1)],
    [(-0.16, 0.3), (-0.09, 0.22), (-0.02, 0.05)],
    [(0.06, 0.49), (0.06, -0.04), (0.07, -0.30)],
    [(0.03, 0.28), (0.04, -0.25)],
    [(-0.02, 0.28), (-0.01, -0.3), (0.0, -0.85)],
    [(-0.03, -0.22), (0.03, -0.83)],
    [(0.11, -0.22), (0.11, -0.64)],
    [(-0.12, 0.05), (-0.08, 0.0), (-0.05, -0.15), (0.02, -0.3)],
    [(-0.1, -0.05), (-0.1, 0.1), (-0.05, 0.12), (0.02, -0.1)],
    [(0.08, -0.75), (0.13, -1.35)],
    [(0.19, -0.48), (0.16, -0.83)],
    [(0.24, -0.54), (0.2, -0.9)],
    [(0.28, -0.64), (0.23, -1.0)],
    [(0.34, -0.9), (0.26, -1.17)],
    [(0.10, -0.38), (0.2, -0.75), (0.26, -1.14)],
    [(0.05, -0.25), (0.17, -0.65), (0.24, -1.15)],
    [(0.19, -1.14), (0.25, -1.9)],
    [(0.2, -1.1), (0.25, -1.5), (0.3, -2.0)],
    [(0.28, -1.61), (0.36, -2.56)],
    [(0.32, -1.6), (0.40, -2.32)],
    [(0.40, -2.06), (0.51, -2.87)],
    [(0.44, -2.14), (0.55, -2.85)],
    [(0.54, -2.32), (0.69, -3.71)],
    [(0.59, -2.66), (0.74, -3.53)],
    [(0.65, -2.43), (0.53, -2.30)],
    [(0.84, -2.77), (0.55, -2.40)],
    [(0.90, -3.14), (0.67, -2.8)],
    [(1.15, -3.66), (0.91, -3.19), (0.74, -2.98)],
]

x_ticks = [0, 1, 2, 3, 4, 5]
y_ticks = [-10, -5, 0, 5]

band_color = "#cbe0ff"
line_color = "#3a6a96"


def smooth(points):
    # quadratic pieces between the read points, keeps lines from looking kinked
    verts, codes = [], []
    for a, b in zip(points[1:-1], points[2:]):
        verts += [a, ((a[0] + b[0]) / 2, (a[1] + b[1]) / 2)]
        codes += [Path.CURVE3, Path.CURVE3]
    verts.append(points[-1])
    codes.append(Path.LINETO)
    return verts, codes


def scallops(points):
    # the outline bulges in small steps along its lower right side
    verts, codes = [], []
    for (x0, y0), (x1, y1) in zip(points, points[1:]):
        bulge = (0.7 * x0 + 0.3 * x1, 0.3 * y0 + 0.7 * y1)
        verts += [bulge, (x1, y1)]
        codes += [Path.CURVE3, Path.CURVE3]
    return verts, codes


def curve(points):
    verts, codes = smooth(points)
    return Path([points[0]] + verts, [Path.MOVETO] + codes)


fig = plt.figure(figsize=(12, 8), dpi=100)
ax = fig.add_axes([113.5 / 1200, 90.5 / 800, 1062.5 / 1200, 685.5 / 800])

# Band with real holes, so the grid stays visible through them
verts, codes = [edge_top[0]], [Path.MOVETO]
for v, c in [smooth(edge_top), smooth(edge_back), scallops(edge_steps), smooth(edge_tail)]:
    verts += v
    codes += c
verts.append(edge_top[0])
codes.append(Path.CLOSEPOLY)
for hole in [hole_left, hole_small, hole_right]:
    verts += hole + [hole[0]]
    codes += [Path.MOVETO] + [Path.LINETO] * (len(hole) - 1) + [Path.CLOSEPOLY]
ax.add_patch(PathPatch(Path(verts, codes), fc=band_color, ec="none", zorder=2))

for group in [strands_top, strands_left, strands_right, strands_bottom, strands_mid, strands_inner, strands_tail]:
    for strand in group:
        ax.add_patch(PathPatch(curve(strand), fc="none", ec=line_color, lw=0.7, alpha=0.65, zorder=3))

# Nominal line: dark pieces only in the gaps of the white dashes
ax.add_patch(PathPatch(curve(nominal), fc="none", ec=line_color, lw=5.8, capstyle="butt",
                       linestyle=(15, (16, 22)), zorder=4))
ax.add_patch(PathPatch(curve(nominal), fc="none", ec="white", lw=3.6, capstyle="butt",
                       linestyle=(0, (23, 15)), zorder=5))

ax.set_xlim(-0.5, 5.5)
ax.set_ylim(-10, 8)
ax.set_xticks(x_ticks)
ax.set_yticks(y_ticks)
ax.grid(True, color="#ececec", lw=1.1)
ax.set_axisbelow(True)
ax.spines["top"].set_visible(False)
ax.spines["right"].set_visible(False)
ax.spines["left"].set_linewidth(1.5)
ax.spines["bottom"].set_linewidth(1.5)
ax.tick_params(axis="x", direction="in", length=6, width=1.3, labelsize=16, pad=11)
ax.tick_params(axis="y", direction="in", length=9, width=1.3, labelsize=16, pad=11)

ax.set_xlabel(r"$\theta$", fontsize=35, labelpad=2)
ax.set_ylabel(r"$\omega$", fontsize=38, labelpad=-1)

fig.savefig("out.png", dpi=100)
